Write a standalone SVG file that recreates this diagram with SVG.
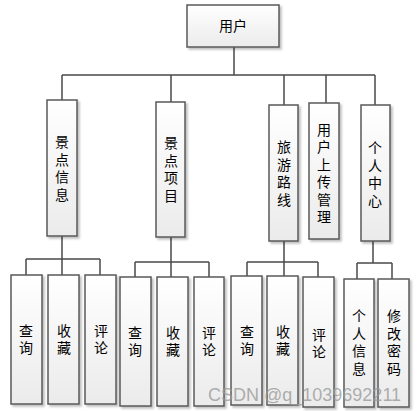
<svg xmlns="http://www.w3.org/2000/svg" width="417" height="411" viewBox="0 0 417 411">
<defs>
<linearGradient id="g" x1="0" y1="0" x2="0" y2="1">
<stop offset="0" stop-color="#ffffff"/>
<stop offset="1" stop-color="#ebebeb"/>
</linearGradient>
<filter id="sh" x="-20%" y="-20%" width="150%" height="150%">
<feDropShadow dx="2" dy="2" stdDeviation="0.8" flood-color="#000" flood-opacity="0.25"/>
</filter>
</defs>
<style>
.b{fill:url(#g);stroke:#5a5a5a;stroke-width:1.5;filter:url(#sh)}
.t{font-family:"Noto Sans CJK SC","Liberation Sans",sans-serif;font-size:14px;fill:#000;text-anchor:middle}
.v{font-family:"Noto Sans CJK SC","Liberation Sans",sans-serif;font-size:14px;fill:#000;text-anchor:middle;writing-mode:vertical-rl;letter-spacing:3.5px}
.c{fill:none;stroke:#4a4a4a;stroke-width:1.5}
.w{font-family:"Liberation Sans",Arial,sans-serif;font-size:18px;fill:#9a9a9a;fill-opacity:0.8}
</style>
<rect width="417" height="411" fill="#fff"/>
<g id="connectors">
<path class="c" d="M234 47V75M62 75H375M62 75V100M171 75V102M284 75V105M326 75V103M375 75V105"/>
<path class="c" d="M62 236V276M26 259H100M26 259V275M100 259V275"/>
<path class="c" d="M171 237V277M135 262H209M135 262V277M209 262V277"/>
<path class="c" d="M284 241V276M247 262H318M247 262V276M318 262V277"/>
<path class="c" d="M373 241V263M357 263H392M357 263V279M392 263V279"/>
</g>
<g id="n-user"><rect class="b" x="187" y="5" width="92" height="42"/><text class="t" x="233" y="31">用户</text></g>
<g id="n-jdxx"><rect class="b" x="47" y="100" width="30" height="136"/><text class="v" x="62" y="170">景点信息</text></g>
<g id="n-jdxm"><rect class="b" x="156" y="102" width="29" height="135"/><text class="v" x="171" y="171">景点项目</text></g>
<g id="n-lylx"><rect class="b" x="269" y="105" width="29" height="136"/><text class="v" x="284" y="175">旅游路线</text></g>
<g id="n-upload"><rect class="b" x="309" y="103" width="30" height="136"/><text class="v" x="324" y="175">用户上传管理</text></g>
<g id="n-grzx"><rect class="b" x="361" y="105" width="29" height="136"/><text class="v" x="375" y="176">个人中心</text></g>
<g id="n-a1"><rect class="b" x="11" y="275" width="31" height="129"/><text class="v" x="26" y="341">查询</text></g>
<g id="n-a2"><rect class="b" x="48" y="275" width="31" height="129"/><text class="v" x="64" y="341">收藏</text></g>
<g id="n-a3"><rect class="b" x="85" y="275" width="31" height="129"/><text class="v" x="101" y="341">评论</text></g>
<g id="n-b1"><rect class="b" x="120" y="277" width="31" height="129"/><text class="v" x="135" y="343">查询</text></g>
<g id="n-b2"><rect class="b" x="157" y="277" width="31" height="129"/><text class="v" x="173" y="343">收藏</text></g>
<g id="n-b3"><rect class="b" x="194" y="277" width="30" height="129"/><text class="v" x="209" y="343">评论</text></g>
<g id="n-c1"><rect class="b" x="231" y="276" width="31" height="129"/><text class="v" x="247" y="342">查询</text></g>
<g id="n-c2"><rect class="b" x="267" y="276" width="31" height="129"/><text class="v" x="283" y="342">收藏</text></g>
<g id="n-c3"><rect class="b" x="303" y="277" width="31" height="130"/><text class="v" x="319" y="345">评论</text></g>
<g id="n-d1"><rect class="b" x="344" y="279" width="30" height="128"/><text class="v" x="359" y="344">个人信息</text></g>
<g id="n-d2"><rect class="b" x="378" y="279" width="31" height="128"/><text class="v" x="394" y="344">修改密码</text></g>
<text class="w" x="208" y="401">CSDN @q_1039692211</text>
</svg>
